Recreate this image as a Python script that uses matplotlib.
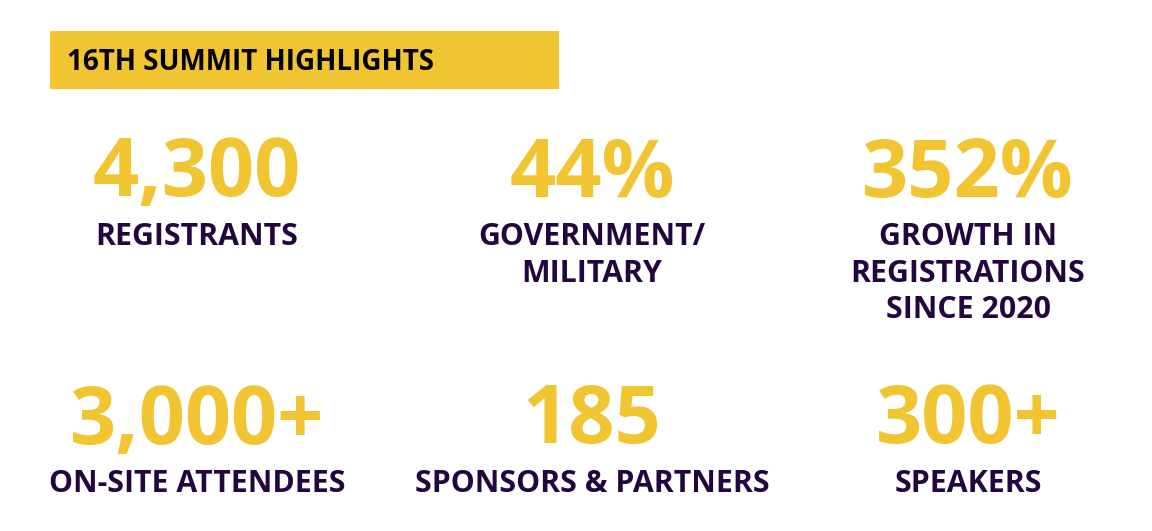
"""Summit highlights infographic."""
import matplotlib
matplotlib.use("Agg")
import matplotlib.pyplot as plt
from matplotlib.patches import Rectangle

W, H = 1152, 531
YELLOW = "#F1C431"
PURPLE = "#23063F"

TITLE = "16TH SUMMIT HIGHLIGHTS"
VALUES = ["4,300", "44%", "352%", "3,000+", "185", "300+"]
LABELS = [
    ["REGISTRANTS"],
    ["GOVERNMENT/", "MILITARY"],
    ["GROWTH IN", "REGISTRATIONS", "SINCE 2020"],
    ["ON-SITE ATTENDEES"],
    ["SPONSORS & PARTNERS"],
    ["SPEAKERS"],
]
CENTERS = [197, 592, 968, 197, 592, 968]
VALUE_Y = [175.5, 175.5, 175.5, 422.5, 422.5, 422.5]
LABEL_Y = [237, 237, 237, 484, 484, 484]

plt.rcParams["font.family"] = ["Open Sans", "DejaVu Sans"]

fig = plt.figure(figsize=(W / 100, H / 100), dpi=100, facecolor="white")
ax = fig.add_axes([0, 0, 1, 1])
ax.set_xlim(0, W)
ax.set_ylim(H, 0)
ax.axis("off")

# header band
ax.add_patch(Rectangle((50, 31), 509, 58, facecolor=YELLOW, edgecolor="none"))
ax.text(67, 63, TITLE, fontsize=20, fontweight="bold", color="black",
        ha="left", va="center")

# stat blocks
for x, vy, ly, val, lines in zip(CENTERS, VALUE_Y, LABEL_Y, VALUES, LABELS):
    ax.text(x, vy, val, fontsize=58.3, fontweight="bold", color=YELLOW,
            ha="center", va="center")
    for i, line in enumerate(lines):
        ax.text(x, ly + i * 36.5, line, fontsize=21.8, fontweight="bold",
                color=PURPLE, ha="center", va="center")

fig.savefig("out.png", dpi=100, facecolor="white")
plt.close(fig)
